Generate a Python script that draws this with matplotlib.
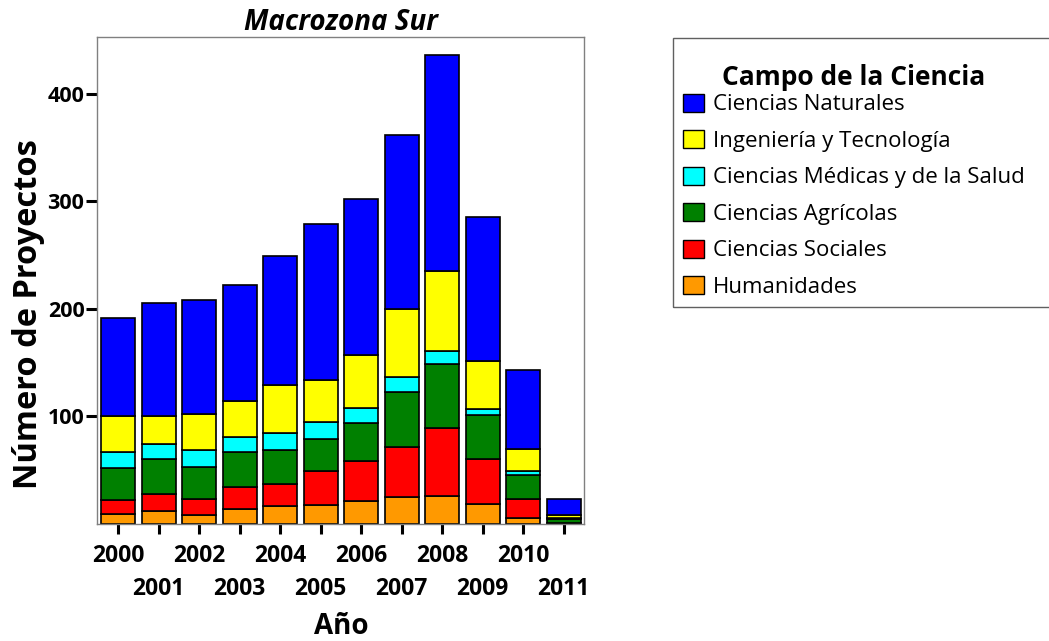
import matplotlib.pyplot as plt
from matplotlib.patches import Patch, Rectangle
import numpy as np

plt.rcParams['font.family'] = ['Open Sans', 'DejaVu Sans']

# Data (stacked from bottom to top)
years = ['2000', '2001', '2002', '2003', '2004', '2005',
         '2006', '2007', '2008', '2009', '2010', '2011']
humanidades = [9, 12, 8, 14, 17, 18, 21, 25, 26, 19, 6, 0]
sociales = [13, 16, 15, 20, 20, 31, 38, 47, 63, 41, 17, 1]
agricolas = [30, 32, 30, 33, 32, 30, 35, 51, 60, 41, 23, 4]
medicas = [15, 14, 16, 14, 16, 16, 14, 14, 12, 6, 3, 1]
ingenieria = [33, 26, 33, 33, 44, 39, 49, 63, 74, 45, 21, 2]
naturales = [92, 106, 106, 108, 120, 145, 145, 162, 201, 134, 73, 15]

series = [
    ('Humanidades', humanidades, '#FF9900'),
    ('Ciencias Sociales', sociales, '#FF0000'),
    ('Ciencias Agrícolas', agricolas, '#008000'),
    ('Ciencias Médicas y de la Salud', medicas, '#00FFFF'),
    ('Ingeniería y Tecnología', ingenieria, '#FFFF00'),
    ('Ciencias Naturales', naturales, '#0000FF'),
]

W, H = 1049, 641
fig = plt.figure(figsize=(W / 100, H / 100), dpi=100)
ax = fig.add_axes([97 / W, 1 - 524 / H, (584 - 97) / W, (524 - 37) / H])

x = np.arange(len(years))
bottom = np.zeros(len(years))
for name, vals, color in series:
    ax.bar(x, vals, width=0.84, bottom=bottom, color=color,
           edgecolor='black', linewidth=1.2, label=name)
    bottom += np.array(vals)

ax.set_xlim(-0.52, 11.5)
ax.set_ylim(0, 453)
ax.set_yticks([100, 200, 300, 400])

# even years on the first row (major), odd years on the second row (minor)
ax.set_xticks(x[::2])
ax.set_xticklabels(years[::2], fontsize=16.5, fontweight='bold')
ax.set_xticks(x[1::2], minor=True)
ax.set_xticklabels(years[1::2], minor=True, fontsize=16.5, fontweight='bold')
ax.tick_params(axis='x', which='major', width=2.2, length=7.5, pad=7)
ax.tick_params(axis='x', which='minor', width=2.2, length=7.5, pad=31)
ax.tick_params(axis='y', labelsize=15.5, width=2.2, length=8, pad=1)
for lab in ax.get_yticklabels():
    lab.set_fontweight('bold')

for s in ax.spines.values():
    s.set_color('#808080')
    s.set_linewidth(1)

ax.set_title('Macrozona Sur', fontsize=20, fontweight='bold', style='italic', pad=5)
ax.set_xlabel('Año', fontsize=20, fontweight='bold')
ax.xaxis.set_label_coords((341 - 97) / 487, (524 - 612) / 487)
ax.set_ylabel('Número de Proyectos', fontsize=23.5, fontweight='bold')
ax.yaxis.set_label_coords((45 - 97) / 487, (524 - 314) / 487)

handles = [Patch(facecolor=c, edgecolor='black', label=n) for n, v, c in series][::-1]
leg = fig.legend(handles=handles, loc='upper left',
                 bbox_to_anchor=(683 / W, 1 - 64 / H),
                 title='Campo de la Ciencia', fontsize=16,
                 title_fontproperties={'weight': 'bold', 'size': 19},
                 frameon=False, borderaxespad=0, borderpad=0,
                 handlelength=0.95, handleheight=0.86, handletextpad=0.38,
                 labelspacing=0.67)
leg._legend_box.sep = 2.0  # tighter gap between legend title and entries
fig.patches.append(Rectangle((673 / W, 1 - 307 / H), (1070 - 673) / W, (307 - 38) / H,
                             transform=fig.transFigure, fill=False,
                             edgecolor='#606060', linewidth=1))

fig.savefig('out.png', dpi=100)
